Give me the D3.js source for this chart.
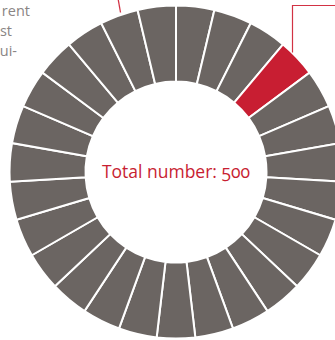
<!DOCTYPE html>
<html>
<head>
<meta charset="utf-8">
<script src="https://cdn.jsdelivr.net/npm/d3@7"></script>
<style>
  html, body { margin: 0; padding: 0; background: #fff; }
  svg { display: block; }
  text { font-family: "Open Sans", "Noto Sans", sans-serif; }
</style>
</head>
<body>
<svg id="chart" width="335" height="340"></svg>
<script>
// 27 equal units around the ring; one of them is highlighted
const segments = d3.range(27).map(i => "u" + (i + 1));
const segmentValues = segments.map(() => 1);
const highlighted = ["u4"];
const totalLabel = "Total number: 500";
// visible ends of the paragraph lines at the left edge
const sideText = ["rent", "st", "ui-"];

const W = 335, H = 340;
const cx = 176, cy = 172;
const outerR = 166.5, innerR = 90.5;
const grey = "#6b6562", red = "#c81e32";

const svg = d3.select("#chart");

const pie = d3.pie().sort(null).value(d => d.v);
const arc = d3.arc().innerRadius(innerR).outerRadius(outerR);

const data = segments.map((s, i) => ({ key: s, v: segmentValues[i] }));

const g = svg.append("g").attr("transform", `translate(${cx},${cy})`);

g.selectAll("path.seg")
  .data(pie(data))
  .join("path")
  .attr("class", "seg")
  .attr("d", arc)
  .attr("fill", d => highlighted.includes(d.data.key) ? red : grey)
  .attr("stroke", "#fff")
  .attr("stroke-width", 2)
  .attr("stroke-linejoin", "miter");

// centre label
svg.append("text")
  .attr("x", cx)
  .attr("y", 177.5)
  .attr("text-anchor", "middle")
  .attr("fill", red)
  .attr("font-size", 17.5)
  .style("font-variant-numeric", "oldstyle-nums")
  .text(totalLabel);

// paragraph fragment on the left
svg.append("g")
  .selectAll("text")
  .data(sideText)
  .join("text")
  .attr("x", (d, i) => [30, 12, 17][i])
  .attr("y", (d, i) => [15.5, 35.5, 56][i])
  .attr("text-anchor", "end")
  .attr("fill", "#8a8584")
  .attr("font-size", 14.5)
  .text(d => d);

// leader lines for callouts
const lineColor = "#d23244";
const leaderX = 292;
// vertical from the highlighted unit's outer edge up to the callout bar
const edgeY = cy - Math.sqrt(outerR * outerR - (leaderX - cx) * (leaderX - cx));
svg.append("path")
  .attr("d", `M${leaderX + 0.5},${edgeY}V5.5H${W}`)
  .attr("fill", "none")
  .attr("stroke", lineColor)
  .attr("stroke-width", 1.2);

// second leader running off the top
svg.append("line")
  .attr("x1", 118.3).attr("y1", 0)
  .attr("x2", 120.5).attr("y2", 12.5)
  .attr("stroke", lineColor)
  .attr("stroke-width", 1.3);
</script>
</body>
</html>
